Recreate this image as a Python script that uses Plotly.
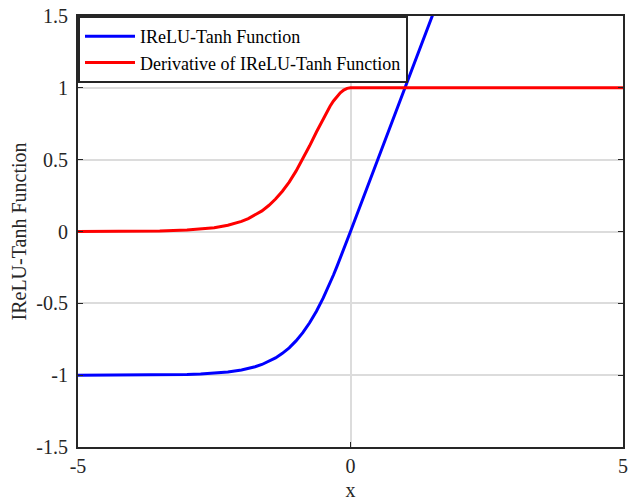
import plotly.graph_objects as go

# Sample points of the IReLU-Tanh activation (tanh for x<0, identity for x>=0)
x_act = [-5.0, -4.5, -4.0, -3.5, -3.0, -2.75, -2.5, -2.25, -2.0, -1.875, -1.75, -1.625,
         -1.5, -1.375, -1.25, -1.125, -1.0, -0.875, -0.75, -0.625, -0.5, -0.4375, -0.375,
         -0.3125, -0.25, -0.1875, -0.125, -0.0625, 0.0, 1.0, 2.0]
y_act = [-0.99991, -0.99975, -0.99933, -0.99818, -0.99505, -0.99186, -0.98661, -0.97803,
         -0.96403, -0.95400, -0.94138, -0.92562, -0.90515, -0.87979, -0.84828, -0.80978,
         -0.76159, -0.70390, -0.63515, -0.55459, -0.46212, -0.41152, -0.35835, -0.30280,
         -0.24492, -0.18533, -0.12435, -0.06242, 0.0, 1.0, 2.0]

# Sample points of its derivative (1 - tanh^2 for x<0, 1 for x>=0)
x_der = [-5.0, -4.5, -4.0, -3.5, -3.0, -2.75, -2.5, -2.25, -2.0, -1.875, -1.75, -1.625,
         -1.5, -1.375, -1.25, -1.125, -1.0, -0.875, -0.75, -0.625, -0.5, -0.4375, -0.375,
         -0.3125, -0.25, -0.1875, -0.125, -0.0625, 0.0, 5.0]
y_der = [0.00018, 0.00049, 0.00134, 0.00364, 0.00987, 0.01621, 0.02659, 0.04346,
         0.07065, 0.08988, 0.11380, 0.14323, 0.18071, 0.22597, 0.28042, 0.34425,
         0.41997, 0.50452, 0.59659, 0.69243, 0.78645, 0.83065, 0.87158, 0.90831,
         0.94001, 0.96565, 0.98454, 0.99610, 1.0, 1.0]

x_ticks = [-5, 0, 5]
y_ticks = [-1.5, -1, -0.5, 0, 0.5, 1, 1.5]
y_tick_text = ["-1.5", "-1", "-0.5", "0", "0.5", "1", "1.5"]

font = "Liberation Serif, Times New Roman, serif"
ink = "#262626"

fig = go.Figure()
fig.add_trace(go.Scatter(x=x_act, y=y_act, mode="lines", name="IReLU-Tanh Function",
                         line=dict(color="#0000FF", width=3)))
fig.add_trace(go.Scatter(x=x_der, y=y_der, mode="lines",
                         name="Derivative of IReLU-Tanh Function",
                         line=dict(color="#FF0000", width=3)))

axis_common = dict(showline=True, linecolor=ink, linewidth=2, mirror="ticks",
                   ticks="inside", ticklen=5, tickcolor=ink, tickwidth=1,
                   showgrid=True, gridcolor="#dcdcdc", gridwidth=2, zeroline=False,
                   tickfont=dict(family=font, size=20, color=ink))

fig.update_xaxes(range=[-5, 5], tickvals=x_ticks, ticktext=[str(v) for v in x_ticks],
                 title=dict(text="x", font=dict(family=font, size=20, color=ink),
                            standoff=7),
                 **axis_common)
fig.update_yaxes(range=[-1.5, 1.5], tickvals=y_ticks, ticktext=y_tick_text,
                 ticklabelstandoff=4,
                 title=dict(text="IReLU-Tanh Function",
                            font=dict(family=font, size=20, color=ink), standoff=4),
                 **axis_common)

fig.update_layout(
    width=633, height=504,
    margin=dict(l=78, r=5, t=12, b=57),
    paper_bgcolor="white", plot_bgcolor="white",
    showlegend=True,
    legend=dict(x=0, y=1, xanchor="left", yanchor="top",
                bgcolor="white", bordercolor=ink, borderwidth=2,
                font=dict(family=font, size=18, color="black"),
                tracegroupgap=0, itemwidth=50),
)

fig.write_html("out.html")
